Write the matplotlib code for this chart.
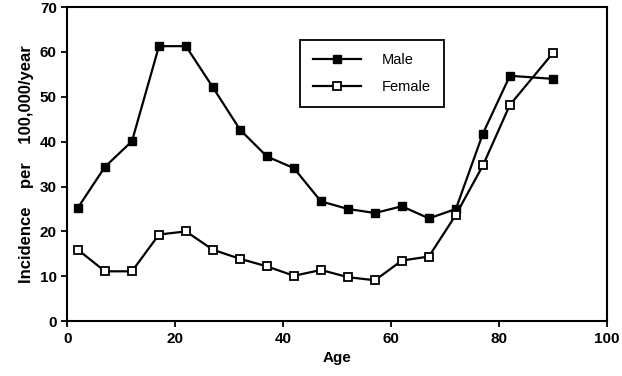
import matplotlib.pyplot as plt

age = [2, 7, 12, 17, 22, 27, 32, 37, 42, 47, 52, 57, 62, 67, 72, 77, 82, 90]
male = [25.3, 34.4, 40.1, 61.3, 61.3, 52.1, 42.7, 36.7, 34.1, 26.7, 25.0, 24.1,
        25.6, 22.9, 25.0, 41.8, 54.7, 54.0]
female = [15.9, 11.1, 11.1, 19.3, 20.0, 15.9, 13.9, 12.2, 10.1, 11.4, 9.8, 9.1,
          13.5, 14.4, 23.7, 34.7, 48.2, 59.8]

plt.rcParams['font.family'] = ['Liberation Sans', 'DejaVu Sans']
plt.rcParams['font.weight'] = 'bold'

fig = plt.figure(figsize=(6.22, 3.76), dpi=100)
ax = fig.add_axes([0.108, 0.146, 0.868, 0.835])

ax.plot(age, male, color='black', lw=1.6, marker='s', markersize=6,
        markerfacecolor='black', label='Male')
ax.plot(age, female, color='black', lw=1.6, marker='s', markersize=6,
        markerfacecolor='white', markeredgewidth=1.3, label='Female')

ax.set_xlim(0, 100)
ax.set_ylim(0, 70)
ax.set_xticks(range(0, 101, 20))
ax.set_yticks(range(0, 71, 10))
ax.tick_params(labelsize=11, width=1.3, length=4)
for s in ax.spines.values():
    s.set_linewidth(1.5)

ax.set_xlabel('Age', fontsize=11, fontweight='bold')
ax.set_ylabel('Incidence    per    100,000/year', fontsize=12, fontweight='bold')

leg = ax.legend(loc='upper left', bbox_to_anchor=(0.431, 0.895), borderaxespad=0,
                fancybox=False, framealpha=1, edgecolor='black',
                handlelength=3.3, borderpad=0.9, labelspacing=0.9,
                handletextpad=1.4, prop={'weight': 'normal', 'size': 10.5})
leg.get_frame().set_linewidth(1.3)

fig.savefig('out.png', dpi=100)
